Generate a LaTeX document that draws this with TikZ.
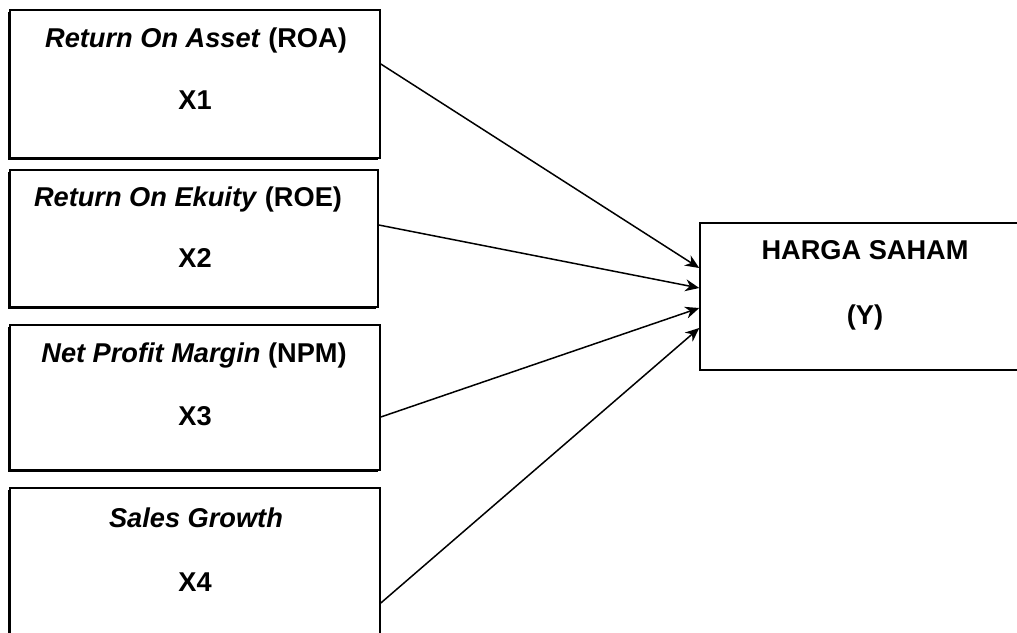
\documentclass[tikz,border=0pt]{standalone}
\usepackage{fontspec}
\setmainfont{Liberation Sans}
\usetikzlibrary{arrows.meta,shadows}
\tikzset{
  var/.style={draw,line width=0.8pt,fill=white,inner sep=0pt,
    drop shadow={shadow xshift=-1pt,shadow yshift=-1pt,fill=black,opacity=1}},
  dep/.style={draw,line width=0.75pt,fill=white,inner sep=0pt},
  ttl/.style={font=\bfseries\fontsize{13.6}{16}\selectfont,inner sep=0pt},
  arr/.style={-{Stealth[length=7pt,width=6pt]},line width=0.75pt}
}
\begin{document}
\begin{tikzpicture}[x=0.5pt,y=-0.5pt]
\clip (0,0) rectangle (1017,632);
\fill[white] (0,0) rectangle (1017,632);
% independent variables
\node[var,minimum width=185pt,minimum height=74pt] (x1) at (195,84) {};
\node[ttl] (x1a) at (196,40) {\textit{Return On Asset} (ROA)};
\node[ttl] (x1b) at (195,100) {X1};
\node[var,minimum width=184pt,minimum height=68.5pt] (x2) at (194,238.5) {};
\node[ttl] (x2a) at (188,199) {\textit{Return On Ekuity} (ROE)};
\node[ttl] (x2b) at (195,258) {X2};
\node[var,minimum width=185pt,minimum height=72.5pt] (x3) at (195,397.5) {};
\node[ttl] (x3a) at (194,355) {\textit{Net Profit Margin} (NPM)};
\node[ttl] (x3b) at (195,416) {X3};
\node[var,minimum width=185pt,minimum height=81pt] (x4) at (195,569) {};
\node[ttl] (x4a) at (196,518) {\textit{Sales Growth}};
\node[ttl] (x4b) at (195,582) {X4};
% dependent variable
\node[dep,minimum width=165pt,minimum height=73.5pt] (y) at (865,296.5) {};
\node[ttl] (ya) at (865,250) {HARGA SAHAM};
\node[ttl] (yb) at (865,317) {(Y)};
% paths
\draw[arr] ([yshift=10pt]x1.east) -- ([yshift=14.25pt]y.west);
\draw[arr] ([yshift=6.75pt]x2.east) -- ([yshift=4.25pt]y.west);
\draw[arr] ([yshift=-9.75pt]x3.east) -- ([yshift=-5.75pt]y.west);
\draw[arr] ([yshift=-17pt]x4.east) -- ([yshift=-15.75pt]y.west);
\end{tikzpicture}
\end{document}
